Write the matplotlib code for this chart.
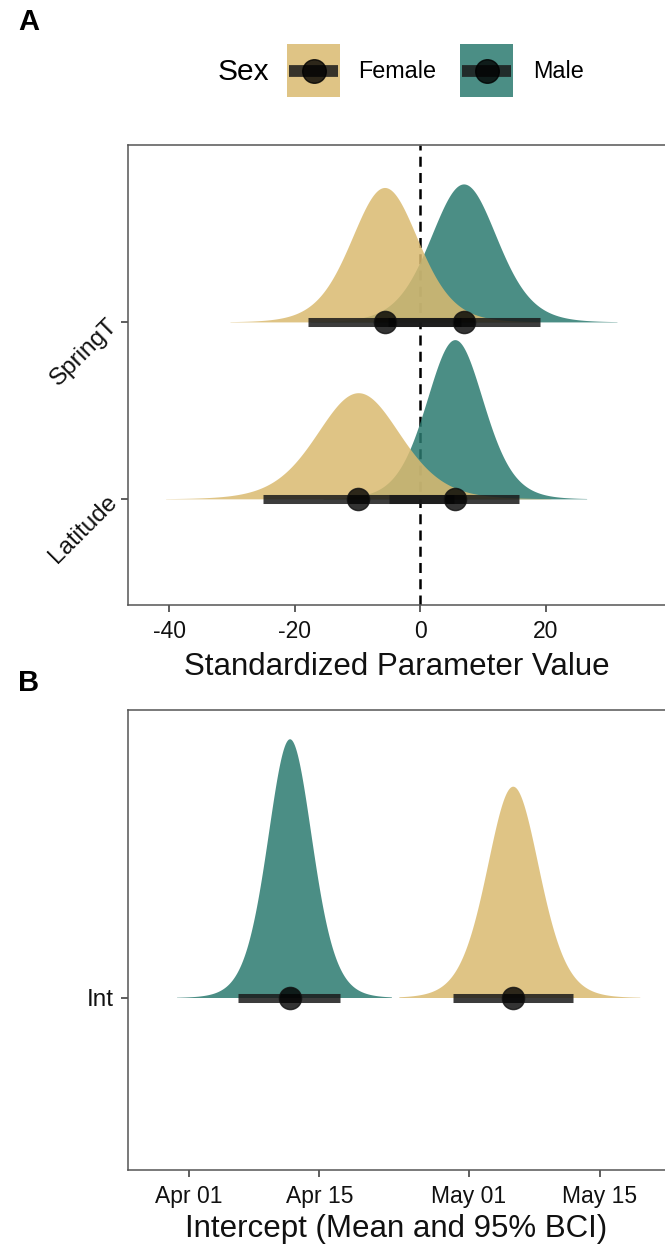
import numpy as np
import matplotlib
matplotlib.use("Agg")
import matplotlib.pyplot as plt
import matplotlib.dates as mdates
from matplotlib.patches import Rectangle
from datetime import datetime

plt.rcParams['font.family'] = ['Liberation Sans', 'DejaVu Sans']
plt.rcParams['axes.unicode_minus'] = False

# ---------------- data ----------------
# Panel A: standardized parameters
params = ["Latitude", "SpringT"]          # y positions 1, 2
sexes = ["Male", "Female"]                 # drawing order
a_mean = {"Female": [-9.9, -5.7], "Male": [5.5, 6.9]}
a_lower = {"Female": [-25.1, -17.9], "Male": [-5.0, -5.2]}
a_upper = {"Female": [5.3, 6.5], "Male": [15.8, 19.0]}
a_peak = {"Female": [0.60, 0.76], "Male": [0.90, 0.78]}

# Panel B: intercept (day of year)
b_mean = {"Male": 101.8, "Female": 125.7}
b_lower = {"Male": 96.3, "Female": 119.3}
b_upper = {"Male": 107.2, "Female": 132.1}
b_peak = {"Male": 0.90, "Female": 0.735}
b_range = {"Male": (89.7, 112.7), "Female": (113.5, 139.3)}

xticks_b = ["2019-04-01", "2019-04-15", "2019-05-01", "2019-05-15"]

colors = {"Female": "#DABA70", "Male": "#2B7A70"}
SLAB_ALPHA = 0.85
DF = 10          # shape of the posterior slab (Student-t like)
Q95 = 2.228      # 97.5% quantile for that shape

W, H = 665, 1247
fig = plt.figure(figsize=(W / 100, H / 100), dpi=100)


def fax(l, t, r, b):
    return fig.add_axes([l / W, 1 - b / H, (r - l) / W, (b - t) / H])


def style(ax):
    for s in ["top", "left", "bottom"]:
        ax.spines[s].set_color("#555555")
        ax.spines[s].set_linewidth(1.1)
    ax.spines["right"].set_visible(False)
    ax.tick_params(colors="#333333", labelcolor="#111111", length=5, width=1.1,
                   labelsize=16.5, pad=6)


def slab(ax, mean, lower, upper, peak, y0, color, xr=None):
    sc = (upper - lower) / (2 * Q95)
    if xr is None:
        xr = (mean - 4.5 * sc, mean + 4.5 * sc)
    xs = np.linspace(xr[0], xr[1], 500)
    ys = peak * (1 + ((xs - mean) / sc) ** 2 / DF) ** (-(DF + 1) / 2)
    ax.fill_between(xs, y0, y0 + ys, color=color, alpha=SLAB_ALPHA, lw=0, zorder=2)


def interval(ax, mean, lower, upper, y0):
    ax.plot([lower, upper], [y0, y0], color="#1a1a1a", alpha=0.85, lw=6.5,
            solid_capstyle="butt", zorder=3)
    ax.plot([mean], [y0], "o", ms=16, color="black", mec="#111111", mew=1,
            alpha=0.8, zorder=4)


# ---------------- Panel A ----------------
axA = fax(128, 145, 665, 605)
style(axA)
axA.axvline(0, color="black", lw=1.8, ls=(0, (4, 2.5)), zorder=1)
for s in sexes:
    for i, p in enumerate(params):
        slab(axA, a_mean[s][i], a_lower[s][i], a_upper[s][i], a_peak[s][i], i + 1, colors[s])
for s in sexes:
    for i, p in enumerate(params):
        interval(axA, a_mean[s][i], a_lower[s][i], a_upper[s][i], i + 1)
axA.set_xlim(-46.6, 39.0)
axA.set_ylim(0.4, 3.0)
axA.set_xticks([-40, -20, 0, 20])
axA.set_yticks([1, 2])
axA.set_yticklabels(params, rotation=45, ha="right", va="center",
                    rotation_mode="anchor", fontsize=17.5)
axA.tick_params(axis="y", pad=5)
axA.set_xlabel("Standardized Parameter Value", fontsize=22.5, labelpad=6, color="#111111")

# ---------------- Panel B ----------------
axB = fax(128, 710, 665, 1170)
style(axB)
base = mdates.date2num(datetime(2019, 1, 1)) - 1
for s in sexes:
    r = b_range[s]
    slab(axB, base + b_mean[s], base + b_lower[s], base + b_upper[s], b_peak[s], 1,
         colors[s], xr=(base + r[0], base + r[1]))
for s in sexes:
    interval(axB, base + b_mean[s], base + b_lower[s], base + b_upper[s], 1)
axB.set_xlim(base + 84.5, base + 142.0)
axB.set_ylim(0.4, 2.0)
axB.set_xticks([mdates.date2num(datetime.strptime(d, "%Y-%m-%d")) for d in xticks_b])
axB.xaxis.set_major_formatter(mdates.DateFormatter("%b %d"))
axB.set_yticks([1])
axB.set_yticklabels(["Int"], fontsize=17.5)
axB.tick_params(axis="y", pad=5)
axB.set_xlabel("Intercept (Mean and 95% BCI)", fontsize=22.5, labelpad=4, color="#111111")

# ---------------- legend & panel tags ----------------
lg = fig.add_axes([0, 0, 1, 1], zorder=-1)
lg.set_xlim(0, W)
lg.set_ylim(H, 0)
lg.axis("off")
fig.text(18 / W, 1 - 22 / H, "A", fontsize=21, fontweight="bold", va="center", ha="left")
fig.text(18 / W, 1 - 683 / H, "B", fontsize=21, fontweight="bold", va="center", ha="left")
fig.text(243 / W, 1 - 72 / H, "Sex", fontsize=21.5, va="center", ha="center")
for s, x0, tx in [("Female", 287, 358), ("Male", 460, 533)]:
    lg.add_patch(Rectangle((x0, 44), 53, 53, color=colors[s], alpha=SLAB_ALPHA, lw=0))
    lg.plot([x0 + 2, x0 + 51], [70.5, 70.5], color="#1a1a1a", alpha=0.85, lw=8.5,
            solid_capstyle="butt")
    lg.plot([x0 + 26.5], [70.5], "o", ms=17, color="black", alpha=0.8)
    fig.text(tx / W, 1 - 72 / H, s, fontsize=16.8, va="center", ha="left")

fig.savefig("out.png", dpi=100)
